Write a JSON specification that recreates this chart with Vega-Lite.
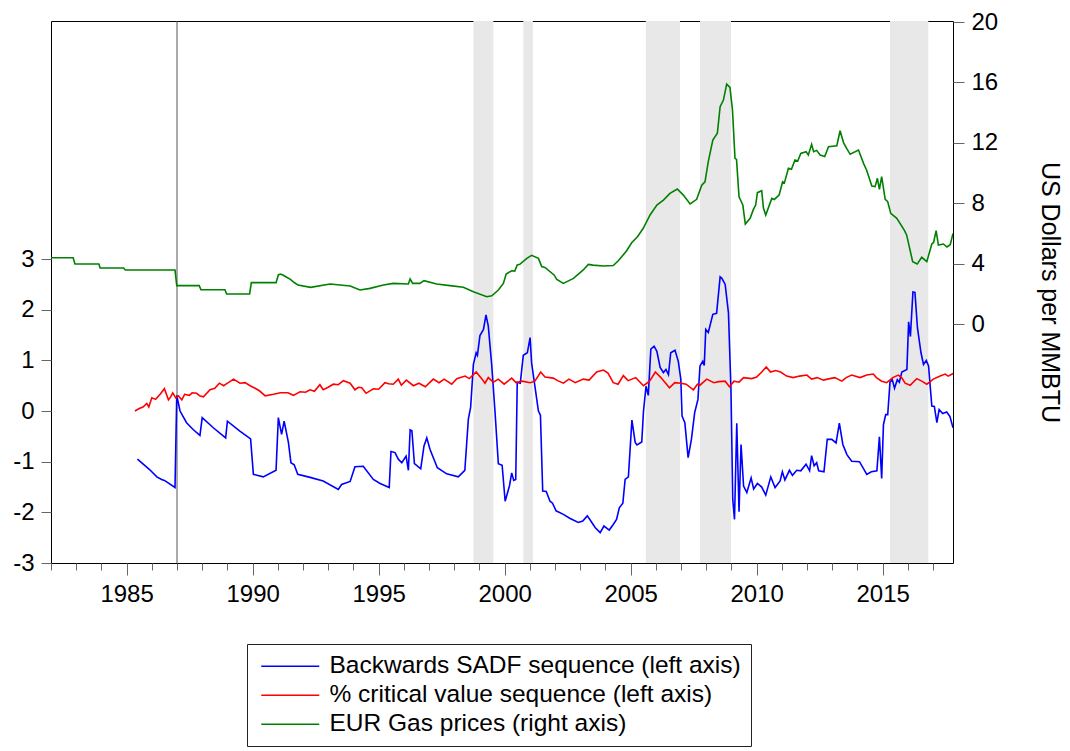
{
  "$schema": "https://vega.github.io/schema/vega-lite/v6.json",
  "width": 902,
  "height": 542,
  "autosize": {"type": "none"},
  "padding": {"left": 51, "top": 21, "right": 117, "bottom": 188},
  "background": "white",
  "config": {
    "view": {"stroke": "#000000", "strokeWidth": 1},
    "font": "Liberation Sans",
    "axis": {"labelFont": "Liberation Sans", "labelColor": "#000000", "titleFont": "Liberation Sans", "titleColor": "#000000", "grid": false, "domain": false, "tickColor": "#666666", "tickWidth": 1}
  },
  "datasets": {
    "bands": [
      {"s": 1998.76, "e": 1999.55},
      {"s": 2000.74, "e": 2001.12},
      {"s": 2005.6, "e": 2006.96},
      {"s": 2007.75, "e": 2008.98},
      {"s": 2015.29, "e": 2016.81}
    ],
    "marker": [{"t": 1987.0}],
    "sadf": [
      {"t":1985.43,"v":-0.95},{"t":1985.9,"v":-1.15},{"t":1986.2,"v":-1.3},{"t":1986.39,"v":-1.35},{"t":1986.5,"v":-1.37},{"t":1986.92,"v":-1.51},
      {"t":1986.99,"v":0.31},{"t":1987.12,"v":0.0},{"t":1987.38,"v":-0.23},{"t":1987.65,"v":-0.37},{"t":1987.91,"v":-0.48},{"t":1988.0,"v":-0.13},
      {"t":1988.44,"v":-0.33},{"t":1988.93,"v":-0.53},{"t":1989.0,"v":-0.2},{"t":1989.48,"v":-0.39},{"t":1989.92,"v":-0.55},{"t":1990.03,"v":-1.25},
      {"t":1990.42,"v":-1.3},{"t":1990.93,"v":-1.17},{"t":1991.02,"v":-0.13},{"t":1991.15,"v":-0.46},{"t":1991.25,"v":-0.2},{"t":1991.42,"v":-0.62},
      {"t":1991.52,"v":-1.02},{"t":1991.65,"v":-1.06},{"t":1991.79,"v":-1.25},{"t":1992.28,"v":-1.31},{"t":1992.8,"v":-1.38},{"t":1993.4,"v":-1.55},
      {"t":1993.53,"v":-1.45},{"t":1993.87,"v":-1.39},{"t":1994.06,"v":-1.1},{"t":1994.39,"v":-1.09},{"t":1994.79,"v":-1.35},{"t":1995.06,"v":-1.43},
      {"t":1995.42,"v":-1.51},{"t":1995.49,"v":-0.8},{"t":1995.65,"v":-0.82},{"t":1995.78,"v":-0.95},{"t":1995.92,"v":-1.02},{"t":1996.09,"v":-0.89},
      {"t":1996.18,"v":-1.17},{"t":1996.25,"v":-0.37},{"t":1996.32,"v":-0.39},{"t":1996.42,"v":-1.04},{"t":1996.67,"v":-1.14},{"t":1996.8,"v":-0.69},
      {"t":1996.91,"v":-0.53},{"t":1997.04,"v":-0.76},{"t":1997.33,"v":-1.12},{"t":1997.7,"v":-1.24},{"t":1998.16,"v":-1.3},{"t":1998.42,"v":-1.17},
      {"t":1998.56,"v":-0.16},{"t":1998.65,"v":0.07},{"t":1998.76,"v":0.92},{"t":1998.87,"v":1.15},{"t":1998.92,"v":1.1},{"t":1999.02,"v":1.49},
      {"t":1999.16,"v":1.61},{"t":1999.26,"v":1.9},{"t":1999.35,"v":1.68},{"t":1999.49,"v":0.89},{"t":1999.62,"v":-0.03},{"t":1999.75,"v":-1.04},
      {"t":1999.9,"v":-1.07},{"t":2000.02,"v":-1.78},{"t":2000.19,"v":-1.48},{"t":2000.28,"v":-1.22},{"t":2000.36,"v":-1.37},{"t":2000.44,"v":-1.35},
      {"t":2000.5,"v":0.57},{"t":2000.62,"v":0.55},{"t":2000.74,"v":1.1},{"t":2000.9,"v":1.15},{"t":2001.01,"v":1.45},{"t":2001.07,"v":0.95},
      {"t":2001.2,"v":0.49},{"t":2001.34,"v":0.0},{"t":2001.42,"v":-0.08},{"t":2001.51,"v":-1.58},{"t":2001.65,"v":-1.59},{"t":2001.8,"v":-1.78},
      {"t":2001.9,"v":-1.82},{"t":2002.04,"v":-1.97},{"t":2002.33,"v":-2.04},{"t":2002.6,"v":-2.12},{"t":2002.92,"v":-2.2},{"t":2003.1,"v":-2.17},
      {"t":2003.28,"v":-2.07},{"t":2003.42,"v":-2.17},{"t":2003.59,"v":-2.3},{"t":2003.79,"v":-2.4},{"t":2003.94,"v":-2.27},{"t":2004.15,"v":-2.35},
      {"t":2004.31,"v":-2.24},{"t":2004.44,"v":-2.14},{"t":2004.55,"v":-1.91},{"t":2004.69,"v":-1.82},{"t":2004.78,"v":-1.35},{"t":2004.91,"v":-1.3},
      {"t":2005.05,"v":-0.18},{"t":2005.18,"v":-0.62},{"t":2005.25,"v":-0.67},{"t":2005.44,"v":-0.61},{"t":2005.51,"v":0.0},{"t":2005.61,"v":0.49},
      {"t":2005.7,"v":0.31},{"t":2005.8,"v":1.22},{"t":2005.93,"v":1.28},{"t":2006.04,"v":1.18},{"t":2006.17,"v":0.86},{"t":2006.3,"v":0.76},
      {"t":2006.4,"v":0.82},{"t":2006.5,"v":0.72},{"t":2006.59,"v":1.15},{"t":2006.76,"v":1.2},{"t":2006.89,"v":0.98},{"t":2006.99,"v":0.63},
      {"t":2007.04,"v":-0.1},{"t":2007.15,"v":-0.23},{"t":2007.28,"v":-0.92},{"t":2007.41,"v":-0.56},{"t":2007.54,"v":-0.03},{"t":2007.67,"v":0.23},
      {"t":2007.75,"v":0.89},{"t":2007.86,"v":0.98},{"t":2007.92,"v":0.9},{"t":2007.98,"v":1.61},{"t":2008.08,"v":1.55},{"t":2008.26,"v":1.91},
      {"t":2008.41,"v":1.93},{"t":2008.55,"v":2.65},{"t":2008.62,"v":2.62},{"t":2008.75,"v":2.5},{"t":2008.88,"v":1.94},{"t":2008.98,"v":0.43},
      {"t":2009.05,"v":-1.74},{"t":2009.12,"v":-2.14},{"t":2009.21,"v":-0.24},{"t":2009.3,"v":-1.99},{"t":2009.38,"v":-0.66},{"t":2009.48,"v":-1.48},
      {"t":2009.61,"v":-1.61},{"t":2009.78,"v":-1.32},{"t":2009.88,"v":-1.54},{"t":2010.03,"v":-1.43},{"t":2010.2,"v":-1.5},{"t":2010.36,"v":-1.66},
      {"t":2010.56,"v":-1.3},{"t":2010.73,"v":-1.51},{"t":2010.93,"v":-1.38},{"t":2011.02,"v":-1.2},{"t":2011.12,"v":-1.36},{"t":2011.3,"v":-1.17},
      {"t":2011.42,"v":-1.27},{"t":2011.59,"v":-1.17},{"t":2011.75,"v":-1.18},{"t":2011.96,"v":-1.05},{"t":2012.1,"v":-1.18},{"t":2012.18,"v":-0.88},
      {"t":2012.28,"v":-1.08},{"t":2012.38,"v":-1.02},{"t":2012.46,"v":-1.18},{"t":2012.67,"v":-1.2},{"t":2012.8,"v":-0.56},{"t":2012.98,"v":-0.56},
      {"t":2013.15,"v":-0.63},{"t":2013.28,"v":-0.24},{"t":2013.42,"v":-0.66},{"t":2013.58,"v":-0.86},{"t":2013.77,"v":-0.99},{"t":2014.08,"v":-1.0},
      {"t":2014.37,"v":-1.25},{"t":2014.55,"v":-1.2},{"t":2014.77,"v":-1.18},{"t":2014.87,"v":-0.51},{"t":2014.96,"v":-1.33},{"t":2015.03,"v":-0.27},
      {"t":2015.12,"v":-0.07},{"t":2015.2,"v":-0.07},{"t":2015.29,"v":0.57},{"t":2015.38,"v":0.62},{"t":2015.47,"v":0.45},{"t":2015.58,"v":0.62},
      {"t":2015.66,"v":0.57},{"t":2015.76,"v":0.77},{"t":2015.96,"v":0.82},{"t":2016.03,"v":1.76},{"t":2016.1,"v":1.47},{"t":2016.2,"v":2.35},
      {"t":2016.28,"v":2.34},{"t":2016.38,"v":1.64},{"t":2016.52,"v":1.15},{"t":2016.62,"v":0.92},{"t":2016.73,"v":1.0},{"t":2016.82,"v":0.89},
      {"t":2016.95,"v":0.1},{"t":2017.05,"v":0.09},{"t":2017.15,"v":-0.23},{"t":2017.24,"v":0.03},{"t":2017.38,"v":-0.05},{"t":2017.54,"v":-0.02},
      {"t":2017.67,"v":-0.11},{"t":2017.79,"v":-0.33}
    ],
    "crit": [
      {"t":1985.33,"v":0.0},{"t":1985.5,"v":0.05},{"t":1985.65,"v":0.08},{"t":1985.8,"v":0.15},{"t":1985.88,"v":0.08},{"t":1986.0,"v":0.26},
      {"t":1986.15,"v":0.23},{"t":1986.33,"v":0.33},{"t":1986.5,"v":0.44},{"t":1986.66,"v":0.22},{"t":1986.75,"v":0.28},{"t":1986.83,"v":0.36},
      {"t":1986.95,"v":0.26},{"t":1987.05,"v":0.3},{"t":1987.19,"v":0.22},{"t":1987.3,"v":0.33},{"t":1987.49,"v":0.31},{"t":1987.6,"v":0.36},
      {"t":1987.78,"v":0.35},{"t":1987.9,"v":0.3},{"t":1988.05,"v":0.28},{"t":1988.31,"v":0.42},{"t":1988.5,"v":0.45},{"t":1988.68,"v":0.55},
      {"t":1988.85,"v":0.5},{"t":1988.97,"v":0.54},{"t":1989.1,"v":0.58},{"t":1989.24,"v":0.63},{"t":1989.5,"v":0.55},{"t":1989.7,"v":0.56},
      {"t":1989.9,"v":0.5},{"t":1990.1,"v":0.45},{"t":1990.27,"v":0.4},{"t":1990.5,"v":0.3},{"t":1990.83,"v":0.33},{"t":1991.1,"v":0.36},
      {"t":1991.4,"v":0.36},{"t":1991.62,"v":0.31},{"t":1991.88,"v":0.38},{"t":1992.1,"v":0.37},{"t":1992.28,"v":0.42},{"t":1992.45,"v":0.39},
      {"t":1992.67,"v":0.52},{"t":1992.8,"v":0.42},{"t":1993.0,"v":0.47},{"t":1993.2,"v":0.53},{"t":1993.4,"v":0.52},{"t":1993.6,"v":0.6},
      {"t":1993.87,"v":0.55},{"t":1994.06,"v":0.42},{"t":1994.2,"v":0.47},{"t":1994.33,"v":0.46},{"t":1994.5,"v":0.35},{"t":1994.79,"v":0.44},
      {"t":1995.0,"v":0.43},{"t":1995.25,"v":0.56},{"t":1995.4,"v":0.54},{"t":1995.58,"v":0.53},{"t":1995.78,"v":0.63},{"t":1995.9,"v":0.51},
      {"t":1996.1,"v":0.61},{"t":1996.38,"v":0.5},{"t":1996.6,"v":0.55},{"t":1996.85,"v":0.48},{"t":1997.17,"v":0.63},{"t":1997.4,"v":0.56},
      {"t":1997.6,"v":0.63},{"t":1997.9,"v":0.53},{"t":1998.1,"v":0.64},{"t":1998.43,"v":0.69},{"t":1998.6,"v":0.64},{"t":1998.87,"v":0.77},
      {"t":1999.09,"v":0.64},{"t":1999.22,"v":0.55},{"t":1999.35,"v":0.66},{"t":1999.55,"v":0.57},{"t":1999.75,"v":0.63},{"t":1999.98,"v":0.53},
      {"t":2000.28,"v":0.65},{"t":2000.45,"v":0.56},{"t":2000.7,"v":0.59},{"t":2001.01,"v":0.56},{"t":2001.2,"v":0.59},{"t":2001.43,"v":0.77},
      {"t":2001.6,"v":0.67},{"t":2001.93,"v":0.65},{"t":2002.1,"v":0.6},{"t":2002.33,"v":0.55},{"t":2002.55,"v":0.63},{"t":2002.8,"v":0.56},
      {"t":2003.12,"v":0.63},{"t":2003.35,"v":0.61},{"t":2003.65,"v":0.77},{"t":2003.92,"v":0.81},{"t":2004.1,"v":0.75},{"t":2004.31,"v":0.56},
      {"t":2004.5,"v":0.53},{"t":2004.71,"v":0.7},{"t":2004.9,"v":0.6},{"t":2005.2,"v":0.66},{"t":2005.51,"v":0.5},{"t":2005.75,"v":0.59},
      {"t":2005.98,"v":0.77},{"t":2006.2,"v":0.66},{"t":2006.54,"v":0.46},{"t":2006.75,"v":0.56},{"t":2007.0,"v":0.55},{"t":2007.2,"v":0.53},
      {"t":2007.49,"v":0.42},{"t":2007.65,"v":0.53},{"t":2007.75,"v":0.51},{"t":2008.02,"v":0.63},{"t":2008.3,"v":0.56},{"t":2008.5,"v":0.58},
      {"t":2008.75,"v":0.59},{"t":2008.92,"v":0.48},{"t":2009.1,"v":0.59},{"t":2009.3,"v":0.57},{"t":2009.48,"v":0.66},{"t":2009.8,"v":0.64},
      {"t":2010.0,"v":0.67},{"t":2010.2,"v":0.77},{"t":2010.38,"v":0.87},{"t":2010.55,"v":0.77},{"t":2010.75,"v":0.8},{"t":2010.95,"v":0.77},
      {"t":2011.19,"v":0.69},{"t":2011.45,"v":0.66},{"t":2011.7,"v":0.69},{"t":2011.99,"v":0.71},{"t":2012.18,"v":0.63},{"t":2012.4,"v":0.66},
      {"t":2012.65,"v":0.61},{"t":2012.9,"v":0.64},{"t":2013.1,"v":0.66},{"t":2013.38,"v":0.59},{"t":2013.55,"v":0.66},{"t":2013.77,"v":0.71},
      {"t":2014.1,"v":0.66},{"t":2014.37,"v":0.71},{"t":2014.63,"v":0.73},{"t":2014.75,"v":0.66},{"t":2014.96,"v":0.59},{"t":2015.16,"v":0.56},
      {"t":2015.4,"v":0.66},{"t":2015.62,"v":0.71},{"t":2015.75,"v":0.66},{"t":2015.89,"v":0.55},{"t":2016.09,"v":0.51},{"t":2016.35,"v":0.64},
      {"t":2016.55,"v":0.59},{"t":2016.75,"v":0.53},{"t":2017.01,"v":0.63},{"t":2017.28,"v":0.69},{"t":2017.48,"v":0.73},{"t":2017.6,"v":0.69},
      {"t":2017.79,"v":0.74}
    ],
    "gas": [
      {"t":1982.0,"v":4.39},{"t":1982.88,"v":4.39},{"t":1982.95,"v":3.97},{"t":1983.9,"v":3.97},{"t":1983.95,"v":3.71},{"t":1984.88,"v":3.71},
      {"t":1984.95,"v":3.58},{"t":1986.92,"v":3.58},{"t":1986.99,"v":2.54},{"t":1987.88,"v":2.54},{"t":1987.95,"v":2.27},{"t":1988.9,"v":2.27},
      {"t":1988.97,"v":1.99},{"t":1989.88,"v":1.99},{"t":1989.95,"v":2.74},{"t":1990.93,"v":2.74},{"t":1991.02,"v":3.25},{"t":1991.1,"v":3.31},
      {"t":1991.2,"v":3.25},{"t":1991.35,"v":3.1},{"t":1991.5,"v":2.96},{"t":1991.65,"v":2.75},{"t":1991.8,"v":2.58},{"t":1992.3,"v":2.43},
      {"t":1993.07,"v":2.65},{"t":1993.87,"v":2.52},{"t":1994.26,"v":2.25},{"t":1994.66,"v":2.36},{"t":1995.19,"v":2.58},{"t":1995.58,"v":2.69},
      {"t":1996.18,"v":2.65},{"t":1996.25,"v":2.98},{"t":1996.35,"v":2.69},{"t":1996.64,"v":2.69},{"t":1996.8,"v":2.87},{"t":1997.3,"v":2.65},
      {"t":1997.83,"v":2.54},{"t":1998.36,"v":2.43},{"t":1998.76,"v":2.14},{"t":1999.29,"v":1.81},{"t":1999.49,"v":1.87},{"t":1999.75,"v":2.25},
      {"t":1999.95,"v":2.69},{"t":2000.06,"v":3.31},{"t":2000.28,"v":3.53},{"t":2000.4,"v":3.5},{"t":2000.5,"v":3.91},{"t":2000.6,"v":3.95},
      {"t":2000.88,"v":4.35},{"t":2001.07,"v":4.55},{"t":2001.34,"v":4.35},{"t":2001.47,"v":3.8},{"t":2001.6,"v":3.75},{"t":2001.96,"v":3.25},
      {"t":2002.07,"v":2.96},{"t":2002.33,"v":2.69},{"t":2002.73,"v":3.02},{"t":2003.12,"v":3.58},{"t":2003.32,"v":3.95},{"t":2003.5,"v":3.9},
      {"t":2003.92,"v":3.84},{"t":2004.31,"v":3.87},{"t":2004.51,"v":4.19},{"t":2004.84,"v":4.85},{"t":2005.04,"v":5.38},{"t":2005.27,"v":5.78},
      {"t":2005.5,"v":6.34},{"t":2005.77,"v":7.22},{"t":2006.04,"v":7.88},{"t":2006.3,"v":8.21},{"t":2006.56,"v":8.65},{"t":2006.85,"v":8.94},
      {"t":2007.09,"v":8.54},{"t":2007.36,"v":7.95},{"t":2007.62,"v":8.26},{"t":2007.82,"v":9.2},{"t":2007.95,"v":9.42},{"t":2008.08,"v":10.75},
      {"t":2008.26,"v":12.19},{"t":2008.44,"v":12.63},{"t":2008.55,"v":14.39},{"t":2008.68,"v":14.83},{"t":2008.81,"v":15.89},{"t":2008.94,"v":15.67},
      {"t":2009.04,"v":14.17},{"t":2009.14,"v":10.97},{"t":2009.2,"v":10.9},{"t":2009.3,"v":8.43},{"t":2009.45,"v":7.88},{"t":2009.55,"v":6.62},
      {"t":2009.74,"v":7.0},{"t":2009.87,"v":7.59},{"t":2009.96,"v":7.88},{"t":2010.03,"v":8.7},{"t":2010.2,"v":8.83},{"t":2010.27,"v":7.66},
      {"t":2010.36,"v":7.22},{"t":2010.6,"v":8.32},{"t":2010.7,"v":8.25},{"t":2010.89,"v":8.54},{"t":2011.03,"v":9.42},{"t":2011.1,"v":9.35},
      {"t":2011.26,"v":10.31},{"t":2011.38,"v":10.25},{"t":2011.52,"v":10.86},{"t":2011.63,"v":10.8},{"t":2011.75,"v":11.3},{"t":2011.96,"v":11.41},
      {"t":2012.05,"v":11.2},{"t":2012.18,"v":11.9},{"t":2012.26,"v":11.41},{"t":2012.38,"v":11.5},{"t":2012.52,"v":11.19},{"t":2012.7,"v":11.1},
      {"t":2012.85,"v":11.74},{"t":2013.18,"v":11.81},{"t":2013.31,"v":12.8},{"t":2013.45,"v":12.0},{"t":2013.57,"v":11.63},{"t":2013.71,"v":11.24},
      {"t":2014.04,"v":11.52},{"t":2014.24,"v":10.64},{"t":2014.36,"v":10.2},{"t":2014.57,"v":9.14},{"t":2014.7,"v":9.1},{"t":2014.79,"v":9.65},
      {"t":2014.87,"v":8.92},{"t":2014.96,"v":9.76},{"t":2015.1,"v":8.26},{"t":2015.2,"v":8.1},{"t":2015.32,"v":7.33},{"t":2015.56,"v":7.0},
      {"t":2015.85,"v":6.23},{"t":2015.95,"v":5.9},{"t":2016.19,"v":4.13},{"t":2016.37,"v":3.97},{"t":2016.55,"v":4.42},{"t":2016.75,"v":4.13},
      {"t":2016.95,"v":5.3},{"t":2017.02,"v":5.4},{"t":2017.12,"v":6.18},{"t":2017.21,"v":5.23},{"t":2017.41,"v":5.3},{"t":2017.55,"v":5.1},
      {"t":2017.68,"v":5.25},{"t":2017.79,"v":6.0}
    ]
  },
  "layer": [
    {
      "layer": [
        {
          "data": {"name": "bands"},
          "mark": {"type": "rect", "color": "#e8e8e8"},
          "encoding": {
            "x": {
              "field": "s", "type": "quantitative",
              "scale": {"domain": [1982, 2017.79], "nice": false, "zero": false},
              "axis": {
                "title": null,
                "orient": "bottom",
                "values": [1985, 1990, 1995, 2000, 2005, 2010, 2015],
                "labelExpr": "'' + datum.value",
                "tickSize": 12,
                "labelFontSize": 24,
                "labelPadding": 7,
                "labelFlush": false,
                "labelOverlap": false
              }
            },
            "x2": {"field": "e"}
          }
        },
        {
          "data": {"name": "marker"},
          "mark": {"type": "rule", "color": "#555555", "strokeWidth": 1},
          "encoding": {"x": {"field": "t", "type": "quantitative"}}
        },
        {
          "data": {"name": "sadf"},
          "mark": {"type": "line", "strokeWidth": 1.6, "clip": true},
          "encoding": {
            "x": {"field": "t", "type": "quantitative"},
            "y": {
              "field": "v", "type": "quantitative",
              "scale": {"domain": [-3, 7.7], "nice": false, "zero": false},
              "axis": {"title": null, "orient": "left", "values": [-3,-2,-1,0,1,2,3], "labelExpr": "'' + datum.value", "tickSize": 10, "labelPadding": 7, "labelFontSize": 24}
            },
            "color": {
              "datum": "Backwards SADF sequence (left axis)",
              "scale": {
                "domain": ["Backwards SADF sequence (left axis)", "% critical value sequence (left axis)", "EUR Gas prices (right axis)"],
                "range": ["#0000ff", "#ff0000", "#008000"]
              },
              "legend": {
                "title": null,
                "orient": "none",
                "legendX": 196,
                "legendY": 623,
                "symbolType": "M-1,0H4.8",
                "symbolSize": 400,
                "symbolStrokeWidth": 1.6,
                "symbolOffset": 2,
                "labelFontSize": 24.5,
                "labelFont": "Liberation Sans",
                "labelColor": "#000000",
                "labelOffset": 46,
                "labelLimit": 600,
                "rowPadding": 4,
                "padding": 10,
                "strokeColor": "#222222",
                "fillColor": "#ffffff"
              }
            }
          }
        },
        {
          "data": {"name": "crit"},
          "mark": {"type": "line", "strokeWidth": 1.6, "clip": true},
          "encoding": {
            "x": {"field": "t", "type": "quantitative"},
            "y": {"field": "v", "type": "quantitative"},
            "color": {"datum": "% critical value sequence (left axis)"}
          }
        }
      ]
    },
    {
      "data": {"name": "gas"},
      "mark": {"type": "line", "strokeWidth": 1.6, "clip": true},
      "encoding": {
        "x": {
          "field": "t", "type": "quantitative",
          "scale": {"domain": [1982, 2017.79], "nice": false, "zero": false},
          "axis": {
            "title": null,
            "orient": "bottom",
            "values": [1982,1983,1984,1986,1987,1988,1989,1991,1992,1993,1994,1996,1997,1998,1999,2001,2002,2003,2004,2006,2007,2008,2009,2011,2012,2013,2014,2016,2017],
            "labels": false,
            "tickSize": 7
          }
        },
        "y": {
          "field": "v", "type": "quantitative",
          "scale": {"domain": [-15.83, 20.07], "nice": false, "zero": false},
          "axis": {
            "title": "US Dollars per MMBTU",
            "orient": "right",
            "values": [0, 4, 8, 12, 16, 20],
            "tickSize": 11,
            "labelPadding": 7,
            "labelFontSize": 24,
            "titleFontSize": 25,
            "titleFontWeight": "normal",
            "titleAngle": 90,
            "titleAlign": "center",
            "titleBaseline": "middle",
            "titleX": 96,
            "titleY": 271
          }
        },
        "color": {"datum": "EUR Gas prices (right axis)"}
      }
    }
  ],
  "resolve": {"scale": {"y": "independent", "x": "independent"}}
}
